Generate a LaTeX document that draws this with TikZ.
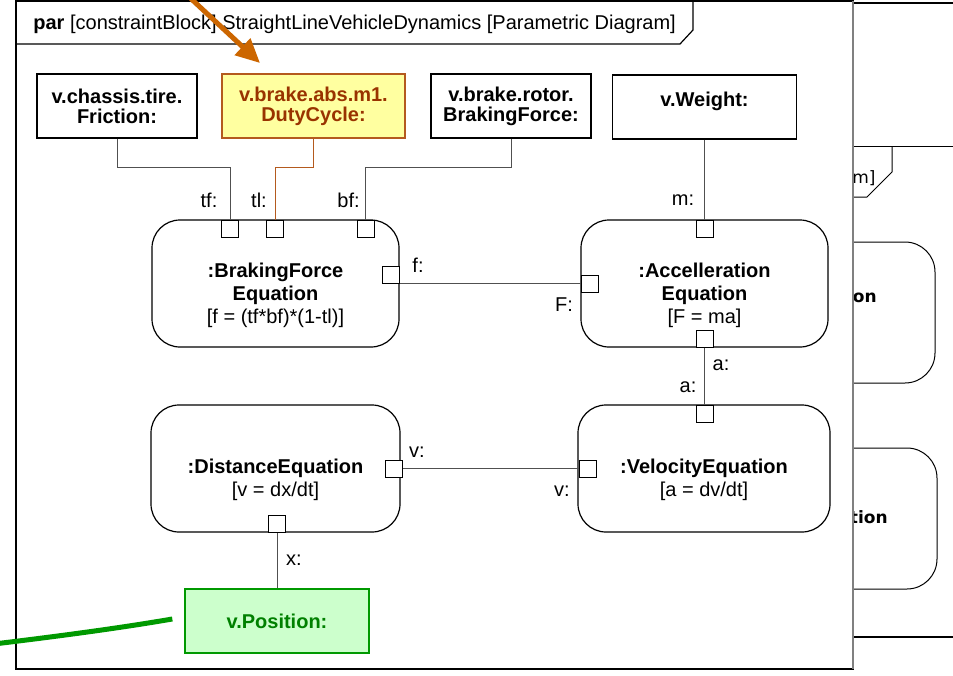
\documentclass[tikz,border=0pt]{standalone}
\usepackage{fontspec}
\setmainfont{Liberation Sans}
\newfontfamily\bgfont{DejaVu Sans}
\usetikzlibrary{positioning,arrows.meta,calc}
\definecolor{cyellow}{RGB}{255,255,160}
\definecolor{cbrown}{RGB}{153,51,0}
\definecolor{cborder}{RGB}{180,90,30}
\definecolor{cgreen}{RGB}{0,153,0}
\definecolor{cgreenfill}{RGB}{204,255,204}
\definecolor{cgreentext}{RGB}{0,128,0}
\definecolor{corange}{RGB}{204,102,0}
\definecolor{cwire}{RGB}{80,80,80}
\newcommand{\eqname}[1]{\rule{0pt}{19pt}\textbf{#1}}

\begin{document}
\begin{tikzpicture}[x=0.5pt, y=-0.5pt,
    value/.style={rectangle, draw, line width=0.7pt, minimum width=80pt, minimum height=32pt, inner sep=0pt, align=center, font=\fontsize{10}{10}\selectfont\bfseries},
    constraint/.style={rectangle, rounded corners=14pt, draw, line width=0.6pt, minimum width=123.5pt, minimum height=63.5pt, inner sep=0pt, align=center, font=\fontsize{10}{11.5}\selectfont},
    port/.style={rectangle, draw, fill=white, line width=0.5pt, minimum size=8.5pt, inner sep=0pt},
    wire/.style={draw=cwire, line width=0.5pt},
    lbl/.style={inner sep=0pt, font=\fontsize{10}{10}\selectfont}]
    \useasboundingbox (0,0) rectangle (953,675);

    \draw[line width=1pt] (820,3) -- (953,3);
    \draw[line width=0.5pt] (820,146) -- (953,146);
    \draw[line width=0.5pt] (892,146) -- (892,172) -- (867,197) -- (820,197);
    \node[anchor=base east, inner sep=0pt, font=\bgfont\fontsize{8.5}{10}\selectfont] (bgTitle) at (876,183) {m]};
    \draw[line width=0.5pt, rounded corners=15pt] (760,242) rectangle (935,383);
    \draw[line width=0.5pt, rounded corners=15pt] (760,448) rectangle (937,589);
    \node[anchor=base east, inner sep=0pt, font=\bgfont\fontsize{8.5}{10}\selectfont\bfseries] (bgEqA) at (877,302) {on};
    \node[anchor=base east, inner sep=0pt, font=\bgfont\fontsize{8.5}{10}\selectfont\bfseries] (bgEqB) at (888,523) {tion};
    \draw[line width=1pt] (820,637) -- (953,637);

    \filldraw[fill=white, draw=black, line width=0.7pt] (16,1) rectangle (853,669);
    \draw[gray, line width=1pt] (853,1) -- (853,669);
    \draw[line width=0.6pt] (16,44) -- (680,44) -- (693,30) -- (693,1);
    \node[anchor=base west, inner sep=0pt, font=\fontsize{10}{10}\selectfont] (Title) at (33,29) {\textbf{par} [constraintBlock] StraightLineVehicleDynamics [Parametric Diagram]};

    \node[value] (Friction) at (117,106) {v.chassis.tire.\\Friction:};
    \node[value, fill=cyellow, draw=cborder, text=cbrown, minimum width=91.5pt] (DutyCycle) at (313.5,106) {v.brake.abs.m1.\\DutyCycle:};
    \node[value] (BrakingForce) at (511,106) {v.brake.rotor.\\BrakingForce:};
    \node[value, minimum width=92pt, text depth=8pt] (Weight) at (704.5,107) {v.Weight:};

    \node[constraint] (BrakeEq) at (275.5,283.5) {\eqname{:BrakingForce}\\\textbf{Equation}\\{[f = (tf*bf)*(1-tl)]}};
    \node[constraint] (AccelEq) at (704.5,283.5) {\eqname{:Accelleration}\\\textbf{Equation}\\{[F = ma]}};
    \node[constraint, minimum width=126pt] (VelEq) at (704,468.5) {\eqname{:VelocityEquation}\\{[a = dv/dt]}};
    \node[constraint, minimum width=124.5pt] (DistEq) at (275.5,468.5) {\eqname{:DistanceEquation}\\{[v = dx/dt]}};
    \node[value, fill=cgreenfill, draw=cgreen, text=cgreentext, minimum width=92pt] (Position) at (277,621) {v.Position:};

    \node[port] (tfPort) at (230,228.5) {};
    \node[port] (tlPort) at (275,228.5) {};
    \node[port] (bfPort) at (365.5,228.5) {};
    \node[port] (fPort) at (390.5,274.5) {};
    \node[port] (FPort) at (589.5,283.5) {};
    \node[port] (mPort) at (704.5,228.5) {};
    \node[port] (aPort) at (704.5,338.5) {};
    \node[port] (aPortB) at (704.5,414) {};
    \node[port] (vPortB) at (587.5,468.5) {};
    \node[port] (vPort) at (394,468.5) {};
    \node[port] (xPort) at (277,523.5) {};

    \draw[wire] (Friction.south) -- ++(0,29) -| (tfPort.north);
    \draw[wire, draw=cborder] (DutyCycle.south) -- ++(0,29) -| (tlPort.north);
    \draw[wire] (BrakingForce.south) -- ++(0,29) -| (bfPort.north);
    \draw[wire] (Weight.south) -- (mPort.north);
    \draw[wire] (fPort.east |- FPort.west) -- (FPort.west);
    \draw[wire] (aPort.south) -- (aPortB.north);
    \draw[wire] (vPort.east) -- (vPortB.west);
    \draw[wire] (xPort.south) -- (Position.north);

    \node[lbl] (tfLbl) at (209,200) {tf:};
    \node[lbl] (tlLbl) at (259,200) {tl:};
    \node[lbl] (bfLbl) at (348.5,200) {bf:};
    \node[lbl] (mLbl) at (683,200) {m:};
    \node[lbl] (fLbl) at (418,265) {f:};
    \node[lbl] (FLbl) at (564,305) {F:};
    \node[lbl] (aLbl) at (721,365) {a:};
    \node[lbl] (aLblB) at (688,387) {a:};
    \node[lbl] (vLbl) at (417,452) {v:};
    \node[lbl] (vLblB) at (562,491) {v:};
    \node[lbl] (xLbl) at (294,560) {x:};

    \coordinate (arrowStart) at (186,-6);
    \coordinate (arrowTip) at (260,63);
    \draw[-{Triangle[length=12pt,width=11pt]}, corange, line width=2.5pt] (arrowStart) -- (arrowTip);
    \coordinate (noteStart) at (-6,644);
    \draw[cgreen, line width=2.5pt] (noteStart) .. controls (60,636) and (120,628) .. ([xshift=-6pt,yshift=1pt]Position.west);
  \end{tikzpicture}
\end{document}
